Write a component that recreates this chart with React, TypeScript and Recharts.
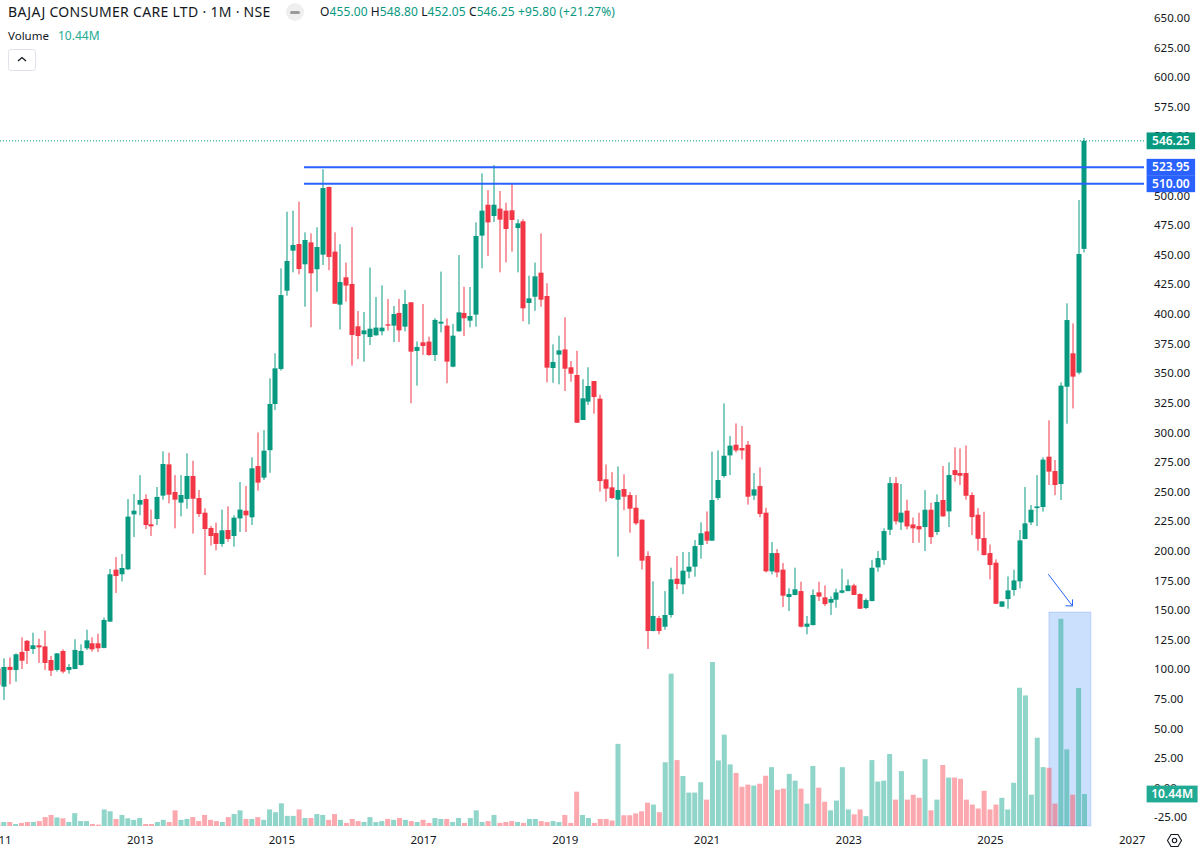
import React from 'react';
import { ComposedChart, Bar, XAxis, YAxis, ReferenceLine, ReferenceArea } from 'recharts';

// monthly candles, index 0 = Jan 2011
const opens = [
  100.8, 85.3, 102, 99.4, 114.6, 124, 117.1, 120.2, 119.3, 107.8,
  99.4, 115.4, 99.4, 100.2, 103.6, 117.7, 121.9, 121.9, 118, 140.2,
  184.1, 180.2, 184.4, 230.8, 239, 243.8, 222.4, 226.9, 246.6, 273,
  249.7, 240.7, 243.8, 263.2, 244.6, 232.2, 219.3, 215, 205.8, 217.6,
  212.5, 227.4, 233.9, 228.3, 271.6, 261.8, 285, 324, 353.6, 419.7,
  453.5, 459.1, 442, 460.5, 437.8, 450.1, 507.3, 452.7, 407.9, 431,
  425.4, 389.6, 382.9, 380.6, 382, 385.4, 391.3, 390.2, 400.9, 389.3,
  409.9, 368.8, 376.1, 376.7, 365.4, 391.9, 390.2, 355.5, 385.4, 400.9,
  394.4, 399.5, 466.2, 492.3, 482.8, 489, 487.3, 487.6, 472.6, 478.3,
  409.3, 414.6, 434.9, 415.2, 354.4, 365.7, 370.1, 355, 348.5, 310.5,
  326, 343.4, 328.5, 260.4, 253.6, 243.2, 252.2, 247.1, 236.4, 226.3,
  195.6, 132.3, 143.2, 135.9, 145.8, 176.5, 171.7, 182.4, 186.6, 204.9,
  216.4, 208.6, 244.6, 263.2, 280.6, 289.6, 286.8, 289.6, 246.6, 254.7,
  232.2, 182.7, 198.1, 184.1, 161, 162.7, 166, 135.9, 137.3, 164.9,
  160.7, 156.2, 158.7, 164.6, 166, 170.8, 163.5, 151.7, 157.6, 186,
  192.2, 217.8, 257.2, 224, 233.9, 222.3, 220.9, 220.1, 234.7, 215.9,
  242.9, 233.3, 268.2, 265.7, 265.7, 247.1, 230.5, 210.8, 198.1, 190,
  152.8, 159.3, 166.9, 174.2, 210, 224, 236.1, 237, 279.5, 267.4,
  256.4, 338.6, 366.8, 350.5, 455,
];
const closes = [
  86.7, 101.9, 99.4, 112.6, 107.2, 115.4, 120.2, 118.5, 105.3, 98.8,
  113.4, 98, 101.9, 116.3, 115.4, 124.4, 116.8, 117.7, 141.6, 180.2,
  178.7, 185.5, 228.9, 233.9, 242.9, 221.8, 220.7, 245.5, 273.3, 247.4,
  243.2, 247.2, 263.2, 244, 231.1, 218.4, 212.5, 205.8, 217.3, 210,
  228, 234.8, 230, 269.7, 257.6, 284.6, 324, 354.1, 416, 444.8,
  458.3, 438, 462.5, 434.4, 456.6, 506.4, 448.2, 408.7, 427, 424,
  382.3, 381.4, 386.2, 387.6, 388.5, 388.5, 390.2, 400, 386.2, 408.5,
  368.2, 372.2, 373, 365.4, 395, 393.5, 359.8, 381.7, 401.4, 396.4,
  398.3, 465.9, 487.3, 477.4, 492.3, 479.7, 471.8, 479.4, 476.6, 404.8,
  413.2, 431.8, 412.1, 354.7, 359.5, 369.3, 353.8, 349.6, 308.2, 328.8,
  339.2, 329.9, 258.9, 252.5, 244.6, 251.3, 245.7, 235.6, 223.2, 191.7,
  132.3, 145, 132.3, 145.8, 175.9, 172, 183.2, 186.6, 204, 214.8,
  208.6, 242.9, 259.8, 280.3, 288.8, 284.8, 284.8, 245.7, 251.9, 231.1,
  182.7, 198.1, 181.8, 162.1, 163.5, 167.5, 135.9, 138.5, 162.7, 161.3,
  155, 159.3, 164.9, 166.6, 170.8, 162.7, 151.1, 158.4, 185.7, 193.9,
  216.7, 257.2, 224.9, 232.2, 220.6, 219, 218.1, 234.7, 211.6, 241.2,
  229.1, 264, 264, 263.4, 246.5, 228.5, 210.2, 196.4, 188, 155.3,
  157.3, 166.6, 175, 208.8, 223.2, 234.7, 237.5, 277, 266.9, 255.6,
  339.5, 394.9, 347.1, 450.7, 546.25,
];
const highs = [
  106.4, 109.2, 110, 113.4, 127, 124.7, 130.9, 125.8, 132.6, 111.2,
  113.6, 116.8, 104.4, 125.3, 121, 133.4, 127, 130, 143.6, 184.7,
  194.8, 197.3, 243.8, 248, 264, 247.7, 234.8, 253.9, 284, 282.9,
  264, 264, 282.3, 276.1, 251.4, 235.9, 221, 223.8, 234.8, 237.6,
  230, 258.1, 254.8, 279, 300, 302, 345.7, 366.8, 438.6, 486.4,
  487.3, 494.9, 469, 468.1, 473.2, 522.2, 507.6, 469, 458.9, 443.4,
  473.5, 402.5, 401.7, 439.2, 414.4, 424.2, 412.7, 406.8, 412.7, 420.3,
  409.9, 376.9, 408.5, 380.9, 396.4, 435.8, 396.4, 391.6, 449.8, 423.1,
  422.8, 477.4, 518.8, 504.7, 525.8, 503.9, 494, 510.4, 480, 480,
  432.4, 443.4, 468.1, 425.9, 374.4, 381.7, 397.2, 360.3, 369, 345,
  355, 343.4, 331.9, 273, 266.5, 271.3, 264.6, 249.7, 247.1, 226.6,
  199.6, 174.2, 145, 166, 185.8, 195.6, 199, 199, 209.1, 224,
  233.3, 283.7, 284.8, 324.5, 296.9, 307.6, 305.4, 292.7, 265.7, 270.5,
  236.4, 207.4, 201.5, 189.7, 168.3, 185.8, 173.9, 145, 167.4, 173.9,
  170.8, 161.5, 168, 184.9, 175.9, 172.2, 164.1, 159.8, 192.2, 199.8,
  219, 262.3, 262.3, 256.4, 243.2, 228.2, 232.2, 251.3, 240.6, 247.7,
  271.6, 274.7, 287.4, 286.5, 289, 249.4, 236.1, 233, 205.4, 192.8,
  157.3, 178.4, 184, 217.6, 253.9, 238.7, 264, 279, 310.2, 276.7,
  342.3, 409, 392.1, 496.3, 548.8,
];
const lows = [
  83, 74, 87.3, 89.5, 100.2, 104.4, 112.9, 105.3, 99.4, 94.3,
  98, 96.5, 96.3, 100, 103, 116.3, 114.8, 114.6, 117.7, 140,
  164.4, 174.2, 183.8, 211.7, 230, 218.4, 212.5, 221.8, 243.2, 240.1,
  219, 229.1, 235.6, 214.5, 228.6, 179.6, 204.4, 200.4, 203.5, 207.7,
  203.5, 215.9, 215.9, 221.8, 250.8, 259.8, 265.9, 318.9, 352.2, 415.5,
  435.2, 433.5, 406.2, 388.8, 418.9, 441.4, 437, 408.7, 387, 410.4,
  356.4, 362, 359.8, 373.8, 381.7, 382, 386, 376.4, 376.4, 385.4,
  324.6, 339.5, 365.4, 364.6, 360.3, 384.5, 341.5, 355, 385, 381.4,
  388.8, 389.3, 438.6, 449, 477.7, 435.2, 443.6, 452.7, 435.2, 393.8,
  391.3, 402.8, 406.2, 342.3, 342, 340.6, 335, 342.8, 308, 310.5,
  323.1, 315.8, 250, 241.5, 243.7, 195, 234.2, 215.3, 221.8, 184.3,
  117.1, 132, 129.5, 133.4, 143.5, 167.5, 163.5, 176.8, 178.2, 193.4,
  205.7, 208.3, 242.9, 261.8, 264, 283.2, 277.2, 239, 242.9, 228.3,
  181.8, 180.1, 177.6, 152.5, 149.2, 162.4, 135.4, 129.5, 137, 157.6,
  153.4, 145.8, 152, 164, 165.8, 162.7, 150.8, 150.8, 157.3, 182.4,
  188.3, 213.3, 222.3, 217.6, 218.1, 206.6, 206.9, 199.8, 205.7, 213.3,
  228.8, 220.1, 258.4, 255.6, 243.2, 213.3, 200.1, 196.2, 175.9, 155,
  152.5, 151.1, 162.1, 168.3, 209.7, 221.8, 220.9, 233.1, 255.6, 247,
  242.9, 307.4, 320.3, 349, 452.05,
];
// volume in millions
const volumes = [
  1, 1.3, 1.3, 0.65, 1, 1.3, 1.3, 1.6, 2.9, 3.6,
  2.8, 2.5, 1.3, 4.2, 1.6, 1.6, 0.65, 0.45, 5.4, 4.8,
  2.3, 3.6, 2.5, 2, 2.6, 0.65, 0.65, 1.3, 2, 1.3,
  5.1, 2, 2.3, 2.9, 1.6, 3.6, 2, 1.6, 1.3, 2.9,
  3.9, 5.1, 2.3, 2.3, 2.9, 2, 5.4, 4.5, 7.4, 3.3,
  3.3, 5.4, 2.6, 2.6, 3.9, 3.6, 2, 3.9, 2, 1,
  2.3, 1.6, 1.3, 2.9, 1.3, 1.6, 2.3, 2, 2.6, 2,
  1.6, 1.3, 2, 1, 2.6, 2.3, 2.3, 1.3, 2.6, 1,
  2.6, 5.1, 1.3, 1.6, 3.6, 1, 1.3, 1.6, 1.3, 1,
  2.3, 2.3, 1.6, 1.3, 1.6, 1.3, 3.6, 1, 11.2, 3.6,
  2.6, 1, 2.3, 2.3, 1.8, 26.8, 3.5, 3.5, 4.1, 4.8,
  7.6, 7, 4.5, 20.8, 49.7, 21.5, 16.3, 10.9, 10.9, 14.3,
  8.6, 53.5, 21.4, 29.8, 20.1, 17.3, 12.8, 13.5, 13.2, 13.8,
  16.4, 19.2, 11.8, 12.2, 17, 14.8, 12.2, 7.3, 19.6, 12.5,
  7.9, 5.1, 8.3, 19.2, 5.4, 3.8, 5.4, 3.2, 21.5, 14.5,
  14.8, 23.5, 8.6, 17.9, 8.6, 10.2, 9.2, 21.8, 5.1, 8.6,
  19.9, 15.8, 15.8, 15.4, 8.6, 7, 5.7, 11.5, 5.4, 7,
  9.2, 5.4, 14.1, 45.1, 42.6, 10.2, 28.8, 19.2, 19, 7.3,
  67.6, 25, 10.2, 45, 10.44,
];
const priceTicks = [
  -25, 0, 25, 50, 75, 100, 125, 150, 175, 200, 225, 250, 275, 300, 325, 350, 375, 400, 425,
  450, 475, 500, 525, 550, 575, 600, 625, 650,
];
const yearTicks = [0, 24, 48, 72, 96, 120, 144, 168, 192];
const yearLabels = ['2011', '2013', '2015', '2017', '2019', '2021', '2023', '2025', '2027'];
const lastPrice = 546.25;
const levels = [523.95, 510];
const lastVolume = 10.44;

const rows = opens.map((o, i) => ({
  m: i,
  open: o,
  close: closes[i],
  high: highs[i],
  low: lows[i],
  volume: volumes[i],
}));

const UP = '#089981';
const DOWN = '#F23645';
const BLUE = '#2962FF';
const TEAL = '#22AB94';
const FONT = '"Noto Sans", sans-serif';
const PLOT_RIGHT = 1144;
const PRICE_DOMAIN = [-32.4, 665.2];
const MONTH_DOMAIN = [-1.42, 194];

function Candle(props: any) {
  const { x, y, width, height, payload } = props;
  const { open, close, high, low } = payload;
  const at = (p: number) => y + ((high - p) / (high - low)) * height;
  const color = close >= open ? UP : DOWN;
  const cx = Math.round(x + width / 2);
  const top = at(Math.max(open, close));
  const bottom = at(Math.min(open, close));
  return (
    <g>
      <rect x={cx - 0.5} y={y} width={1} height={height} fill={color} />
      <rect x={cx - 2.5} y={top} width={5} height={Math.max(bottom - top, 1)} fill={color} />
    </g>
  );
}

function VolumeBar(props: any) {
  const { x, y, width, height, payload } = props;
  const up = payload.close >= payload.open;
  return (
    <rect
      x={x}
      y={y}
      width={width}
      height={height}
      fill={up ? 'rgba(34,171,148,0.5)' : 'rgba(247,82,95,0.5)'}
    />
  );
}

// price tag on the right edge, drawn as a tick of a thin extra axis so it sits over the labels
function badgeTick(fill: (v: number) => string, text: (v: number) => string, w: number) {
  return (props: any) => {
    const { y, payload } = props;
    const left = PLOT_RIGHT + 2.6;
    const value = payload.value;
    return (
      <g>
        <rect x={left} y={y - 8.4} width={w} height={16.8} fill={fill(value)} />
        <text
          x={left + w / 2}
          y={y + 4.2}
          textAnchor="middle"
          fontSize={12}
          fontWeight={600}
          fontFamily={FONT}
          fill="#fff"
        >
          {text(value)}
        </text>
      </g>
    );
  };
}

function Header() {
  const dark = '#131722';
  const base: React.CSSProperties = { position: 'absolute', fontFamily: FONT, whiteSpace: 'nowrap', lineHeight: '16px' };
  return (
    <>
      <div style={{ ...base, left: 8, top: 4, fontSize: 14, letterSpacing: 0.3, color: dark }}>BAJAJ CONSUMER CARE LTD · 1M · NSE</div>
      <div style={{ ...base, left: 286, top: 3, width: 18, height: 18, borderRadius: 9, background: '#efefef' }} />
      <div style={{ ...base, left: 290, top: 11, width: 10, height: 3, borderRadius: 2, background: '#9a9a9a' }} />
      <div style={{ ...base, left: 320, top: 4, fontSize: 12, letterSpacing: 0.1, color: UP }}>
        <span style={{ color: dark }}>O</span>455.00 <span style={{ color: dark }}>H</span>548.80{' '}
        <span style={{ color: dark }}>L</span>452.05 <span style={{ color: dark }}>C</span>546.25 +95.80 (+21.27%)
      </div>
      <div style={{ ...base, left: 8, top: 28, fontSize: 11.5, color: dark }}>Volume</div>
      <div style={{ ...base, left: 58, top: 28, fontSize: 12, color: TEAL }}>10.44M</div>
      <div style={{ position: 'absolute', left: 8, top: 49, width: 26, height: 20, border: '1px solid #e0e3eb', borderRadius: 3 }} />
      <svg style={{ position: 'absolute', left: 16, top: 55 }} width={12} height={8}>
        <path d="M2 6 L6 2.5 L10 6" fill="none" stroke={dark} strokeWidth={1.3} />
      </svg>
      <svg style={{ position: 'absolute', left: 1166, top: 832 }} width={17} height={17}>
        <path d="M5 2.5 H12 L15.5 8.5 L12 14.5 H5 L1.5 8.5 Z" fill="none" stroke={dark} strokeWidth={1.1} />
        <circle cx={8.5} cy={8.5} r={2.2} fill="none" stroke={dark} strokeWidth={1.1} />
      </svg>
    </>
  );
}

export default function App() {
  const tick = { fontSize: 11.5, fontFamily: FONT, fill: '#131722' };
  return (
    <div style={{ position: 'fixed', left: 0, top: 0, width: 1200, height: 851, background: '#fff', overflow: 'hidden' }}>
      <ComposedChart width={1200} height={851} data={rows} margin={{ top: 0, right: 0, left: -10, bottom: 0 }}>
        <XAxis
          xAxisId="price"
          dataKey="m"
          type="number"
          domain={MONTH_DOMAIN}
          allowDataOverflow
          ticks={yearTicks}
          interval={0}
          height={25}
          tick={tick}
          tickLine={false}
          axisLine={false}
          tickMargin={4}
          tickFormatter={(v: number) => yearLabels[yearTicks.indexOf(v)]}
        />
        <XAxis xAxisId="vol" dataKey="m" type="number" domain={MONTH_DOMAIN} allowDataOverflow ticks={yearTicks} hide />
        <YAxis
          yAxisId="price"
          orientation="right"
          width={54}
          domain={PRICE_DOMAIN}
          allowDataOverflow
          ticks={priceTicks}
          interval={0}
          tick={tick}
          tickLine={false}
          axisLine={false}
          tickMargin={4}
          tickFormatter={(v: number) => v.toFixed(2)}
        />
        <YAxis
          yAxisId="tags"
          orientation="right"
          width={1}
          domain={PRICE_DOMAIN}
          allowDataOverflow
          ticks={[lastPrice, ...levels]}
          interval={0}
          tickLine={false}
          axisLine={false}
          tick={badgeTick((v) => (v === lastPrice ? UP : BLUE), (v) => v.toFixed(2), 48.5)}
        />
        <YAxis
          yAxisId="vol"
          orientation="right"
          width={1}
          domain={[0, 269.5]}
          allowDataOverflow
          ticks={[lastVolume]}
          interval={0}
          tickLine={false}
          axisLine={false}
          tick={badgeTick(() => TEAL, (v) => `${v.toFixed(2)}M`, 51)}
        />

        <ReferenceArea
          xAxisId="price"
          yAxisId="price"
          x1={177.9}
          x2={185}
          y1={-32.4}
          y2={148.3}
          fill="#3D8BF5"
          fillOpacity={0.27}
          stroke={BLUE}
          strokeOpacity={0.2}
          ifOverflow="visible"
        />
        <Bar xAxisId="vol" yAxisId="vol" dataKey="volume" barSize={5} shape={VolumeBar} isAnimationActive={false} />
        <Bar
          xAxisId="price"
          yAxisId="price"
          dataKey={(d: any) => [d.low, d.high]}
          barSize={5}
          shape={Candle}
          isAnimationActive={false}
        />

        <ReferenceLine xAxisId="price" yAxisId="price" y={lastPrice} stroke={UP} strokeDasharray="1 2" />
        {levels.map((level) => (
          <ReferenceLine
            key={level}
            xAxisId="price"
            yAxisId="price"
            stroke={BLUE}
            strokeWidth={2}
            segment={[{ x: 51.75, y: level }, { x: 194, y: level }]}
          />
        ))}
        <ReferenceLine
          xAxisId="price"
          yAxisId="price"
          stroke={BLUE}
          strokeWidth={1}
          segment={[{ x: 177.8, y: 180.2 }, { x: 181.9, y: 153.4 }]}
        />
        <ReferenceLine
          xAxisId="price"
          yAxisId="price"
          stroke={BLUE}
          strokeWidth={1}
          segment={[{ x: 180.7, y: 153.6 }, { x: 181.9, y: 153.4 }]}
        />
        <ReferenceLine
          xAxisId="price"
          yAxisId="price"
          stroke={BLUE}
          strokeWidth={1}
          segment={[{ x: 181.9, y: 153.4 }, { x: 181.9, y: 159 }]}
        />
      </ComposedChart>
      <Header />
    </div>
  );
}
